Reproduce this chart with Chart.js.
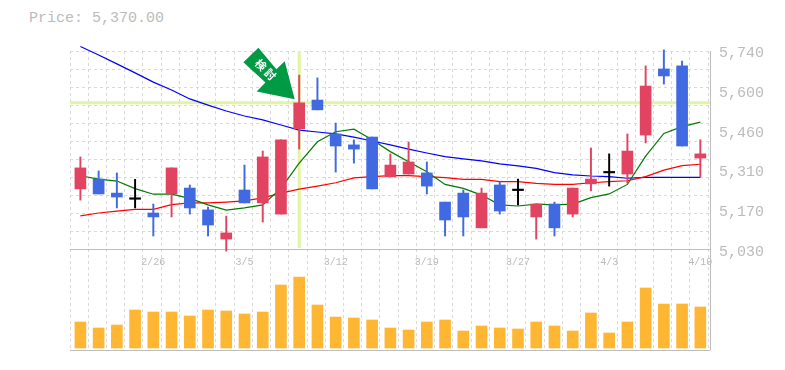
<!DOCTYPE html>
<html>
<head>
<meta charset="utf-8">
<title>Price chart</title>
<script src="https://cdn.jsdelivr.net/npm/chart.js@4/dist/chart.umd.min.js"></script>
<style>
    html, body { margin: 0; padding: 0; background: #fff; overflow: hidden; }
    #price-label {
        position: absolute; left: 29px; top: 10px;
        font: 15px "Liberation Mono", monospace; color: #bbb;
    }
    #chart { position: absolute; left: 0; top: 0; }
</style>
</head>
<body>
<div id="price-label">Price: 5,370.00</div>
<canvas id="chart" width="785" height="370"></canvas>
<script>
const opens  = [5248, 5283, 5233, 5211, 5162, 5230, 5251, 5173, 5069, 5244, 5198, 5158, 5462, 5565, 5444, 5405, 5433, 5291, 5301, 5305, 5201, 5233, 5109, 5262, 5242, 5148, 5194, 5158, 5266, 5305, 5301, 5440, 5676, 5687, 5358];
const closes = [5323, 5230, 5219, 5211, 5148, 5323, 5180, 5119, 5091, 5198, 5362, 5423, 5555, 5530, 5401, 5390, 5248, 5333, 5344, 5258, 5137, 5148, 5233, 5169, 5242, 5194, 5109, 5251, 5283, 5305, 5383, 5615, 5651, 5401, 5373];
const highs  = [5362, 5312, 5305, 5282, 5194, 5323, 5262, 5183, 5151, 5333, 5383, 5423, 5654, 5644, 5483, 5423, 5433, 5373, 5415, 5344, 5201, 5244, 5251, 5273, 5283, 5194, 5201, 5251, 5394, 5373, 5444, 5687, 5744, 5704, 5423];
const lows   = [5208, 5230, 5180, 5180, 5080, 5148, 5158, 5080, 5026, 5198, 5130, 5158, 5390, 5530, 5308, 5340, 5248, 5291, 5301, 5230, 5080, 5080, 5109, 5158, 5191, 5069, 5080, 5148, 5241, 5258, 5269, 5412, 5622, 5401, 5291];

const maShort = [5295, 5283, 5276, 5249, 5229, 5229, 5214, 5191, 5172, 5180, 5191, 5250, 5340, 5416, 5452, 5461, 5423, 5381, 5345, 5309, 5264, 5250, 5226, 5191, 5187, 5194, 5191, 5194, 5217, 5230, 5264, 5365, 5446, 5470, 5486];
const maMid   = [5152, 5162, 5169, 5175, 5175, 5192, 5198, 5198, 5201, 5205, 5216, 5233, 5247, 5258, 5270, 5287, 5292, 5295, 5295, 5292, 5288, 5282, 5282, 5274, 5274, 5268, 5264, 5264, 5270, 5274, 5277, 5292, 5315, 5331, 5336];
const maLong  = [5756, 5726, 5694, 5662, 5629, 5601, 5569, 5547, 5526, 5508, 5494, 5476, 5458, 5451, 5444, 5433, 5419, 5405, 5390, 5376, 5363, 5355, 5348, 5337, 5330, 5321, 5306, 5298, 5294, 5292, 5286, 5289, 5289, 5289, 5289];

const volumes = [26, 20, 23, 38, 36, 36, 32, 38, 37, 34, 36, 63, 71, 43, 31, 30, 28, 20, 18, 26, 28, 17, 22, 20, 19, 26, 22, 17, 35, 15, 26, 60, 44, 44, 41];

const dateIndexes = [4, 9, 14, 19, 24, 29, 34];
const dateLabels = ['2/26', '3/5', '3/12', '3/19', '3/27', '4/3', '4/10'];

const priceTicks = [5030, 5172, 5314, 5456, 5598, 5740];
const priceTickLabels = ['5,030', '5,170', '5,310', '5,460', '5,600', '5,740'];

// hover crosshair
const crossIndex = 12;
const crossPrice = 5555;

const upColor = '#e24360';
const downColor = '#4169e1';
const dojiColor = '#000000';
const gridColor = '#d8d8d8';
const edgeColor = '#bdbdbd';
const textColor = '#bbbbbb';
const crossColor = '#e0f5a0';

const candleColors = opens.map((o, i) => closes[i] > o ? upColor : closes[i] < o ? downColor : dojiColor);

const xMin = -0.57;
const xMax = 34.53;

// the volume panel hangs below the price panel on the same chart area
const priceMin = 4673.2;
const priceMax = 5740;

function setTicks(values) {
    return scale => { scale.ticks = values.map(value => ({ value })); };
}

const xGridTicks = [];
for (let k = 0; k <= 35; k++) xGridTicks.push(k + xMin);
xGridTicks.push(xMax);

const yGridMin = -5.53;
const yGridTicks = [yGridMin];
for (let k = 0; k <= 11; k++) yGridTicks.push(k);

const arrowPlugin = {
    id: 'arrow',
    afterDatasetsDraw(chart) {
        const ctx = chart.ctx;
        const tipX = chart.scales.x.getPixelForValue(crossIndex) - 4.5;
        const tipY = chart.scales.y.getPixelForValue(crossPrice) - 3.7;
        // offsets from the arrow tip
        const shape = [[0, 0], [-38, -7.6], [-29.3, -16.6], [-51.3, -37], [-36.3, -51.3], [-18.3, -30], [-10, -38]];
        ctx.save();
        ctx.fillStyle = '#009944';
        ctx.beginPath();
        shape.forEach(([dx, dy], i) => {
            if (i === 0) ctx.moveTo(tipX + dx, tipY + dy);
            else ctx.lineTo(tipX + dx, tipY + dy);
        });
        ctx.closePath();
        ctx.fill();
        ctx.translate(tipX - 29.2, tipY - 29.5);
        ctx.rotate(Math.PI / 4);
        ctx.fillStyle = '#ffffff';
        ctx.font = 'bold 11px "Noto Sans CJK JP"';
        ctx.textAlign = 'center';
        ctx.textBaseline = 'middle';
        ctx.fillText('検', -6.7, 0);
        ctx.fillText('討', 6.7, 0);
        ctx.restore();
    }
};

new Chart(document.getElementById('chart'), {
    type: 'bar',
    data: {
        datasets: [
            {
                type: 'bar', label: 'Volume', yAxisID: 'yVol', order: 1, grouped: false,
                data: volumes.map((v, i) => ({ x: i, y: v })),
                backgroundColor: '#ffb733', barThickness: 11
            },
            {
                type: 'bar', label: 'Body', yAxisID: 'y', order: 2, grouped: false,
                data: opens.map((o, i) => ({ x: i, y: [o, closes[i]] })),
                backgroundColor: candleColors, barThickness: 11, minBarLength: 1.5
            },
            {
                type: 'bar', label: 'Wick', yAxisID: 'y', order: 3, grouped: false, clip: false,
                data: lows.map((l, i) => ({ x: i, y: [l, highs[i]] })),
                backgroundColor: candleColors, barThickness: 1.3
            },
            {
                type: 'line', label: 'MA short', yAxisID: 'y', order: 4, clip: false,
                data: maShort.map((v, i) => ({ x: i, y: v })),
                borderColor: '#007a00', borderWidth: 1.2, pointRadius: 0, tension: 0
            },
            {
                type: 'line', label: 'MA mid', yAxisID: 'y', order: 5, clip: false,
                data: maMid.map((v, i) => ({ x: i, y: v })),
                borderColor: '#ff0000', borderWidth: 1.2, pointRadius: 0, tension: 0
            },
            {
                type: 'line', label: 'MA long', yAxisID: 'y', order: 6, clip: false,
                data: maLong.map((v, i) => ({ x: i, y: v })),
                borderColor: '#0000ff', borderWidth: 1.2, pointRadius: 0, tension: 0
            },
            {
                type: 'line', label: 'Cross h', yAxisID: 'y', order: 7,
                data: [{ x: xMin, y: crossPrice }, { x: xMax, y: crossPrice }],
                borderColor: crossColor, borderWidth: 3, pointRadius: 0
            },
            {
                type: 'line', label: 'Cross v', yAxisID: 'y', order: 8,
                data: [{ x: crossIndex, y: 5037 }, { x: crossIndex, y: priceMax }],
                borderColor: crossColor, borderWidth: 3, pointRadius: 0
            }
        ]
    },
    options: {
        responsive: false,
        animation: false,
        layout: { padding: { left: 70, right: 0, top: 51, bottom: 20 } },
        plugins: { legend: { display: false }, tooltip: { enabled: false } },
        scales: {
            x: {
                type: 'linear', axis: 'x', min: xMin, max: xMax, offset: false,
                position: { y: 5030 },
                afterFit: scale => { scale.height = 30; },
                afterBuildTicks: setTicks(dateIndexes),
                grid: { display: false, drawTicks: false, offset: false },
                border: { display: false },
                ticks: {
                    autoSkip: false, maxRotation: 0, minRotation: 0, padding: 6,
                    color: textColor, font: { family: '"Liberation Mono", monospace', size: 10 },
                    callback: (value, index) => dateLabels[index]
                }
            },
            xGrid: {
                type: 'linear', axis: 'x', min: xMin, max: xMax, position: 'bottom', offset: false,
                afterFit: scale => { scale.height = 0; },
                afterBuildTicks: setTicks(xGridTicks),
                grid: {
                    drawTicks: false, offset: false,
                    color: c => c.tick && c.tick.value === xMax ? edgeColor : gridColor
                },
                border: { display: false, dash: c => c.tick && c.tick.value === xMax ? [] : [3, 3] },
                ticks: { display: false, autoSkip: false }
            },
            y: {
                type: 'linear', axis: 'y', min: priceMin, max: priceMax, position: 'right',
                afterFit: scale => { scale.width = 75; },
                afterBuildTicks: setTicks(priceTicks),
                grid: { display: false, drawTicks: false },
                border: { display: false },
                ticks: {
                    autoSkip: false, padding: 9, labelOffset: 2,
                    color: textColor, font: { family: '"Liberation Mono", monospace', size: 15 },
                    callback: (value, index) => priceTickLabels[index]
                }
            },
            yGrid: {
                type: 'linear', axis: 'y', min: yGridMin, max: 11, position: 'left',
                afterFit: scale => { scale.width = 0; },
                afterBuildTicks: setTicks(yGridTicks),
                grid: {
                    drawTicks: false,
                    color: c => c.tick && c.tick.value <= 0 ? edgeColor : gridColor
                },
                border: { display: false, dash: c => c.tick && c.tick.value <= 0 ? [] : [3, 3] },
                ticks: { display: false, autoSkip: false }
            },
            yVol: {
                type: 'linear', axis: 'y', min: -2, max: 297, display: false
            }
        }
    },
    plugins: [arrowPlugin]
});
</script>
</body>
</html>
